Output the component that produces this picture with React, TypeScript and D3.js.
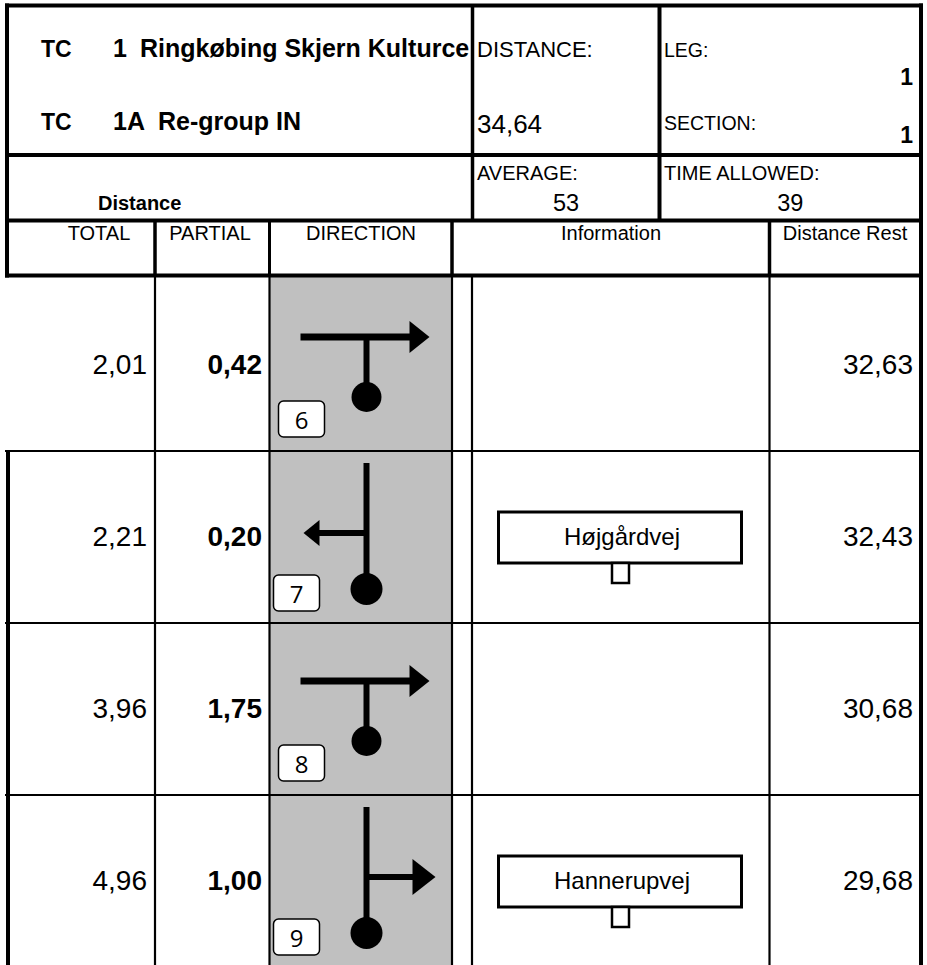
import React from 'react';
import * as d3 from 'd3';

// roadbook rows
const steps = ['6', '7', '8', '9'];
const totals = ['2,01', '2,21', '3,96', '4,96'];
const partials = ['0,42', '0,20', '1,75', '1,00'];
const rests = ['32,63', '32,43', '30,68', '29,68'];
const infos = ['', 'Højgårdvej', '', 'Hannerupvej'];
const turns = ['teeRight', 'left', 'teeRight', 'right'];

// header
const titleCodes = ['TC', 'TC'];
const titleNumbers = ['1', '1A'];
const titleNames = ['Ringkøbing Skjern Kulturce', 'Re-group IN'];
const stageDistance = '34,64';
const legNo = '1';
const sectionNo = '1';
const average = '53';
const timeAllowed = '39';
const columnLabels = ['TOTAL', 'PARTIAL', 'DIRECTION', 'Information', 'Distance Rest'];

const W = 927;
const H = 965;
const FONT = '"Liberation Sans", Arial, sans-serif';
const BOXFONT = '"Open Sans", "Noto Sans", sans-serif';

// layout
const xL = 7, xR = 921;
const cTotal = 155, cPartial = 269.5, cDir = 452, cInfo = 472, cRest = 769.5;
const xSplit1 = 472.5, xSplit2 = 659.5;
const yTop = 5.5, yHead1 = 155, yHead2 = 220.5, yHead3 = 275.5;
const labelX = [99, 210, 361, 611, 845];

const StepBox: React.FC<{ x: number; y: number; step: string }> = ({ x, y, step }) => (
  <g>
    <rect x={x} y={y} width={46} height={36} rx={5} fill="#fff" stroke="#000" strokeWidth={1.5} />
    <text x={x + 23} y={y + 28} textAnchor="middle" fontFamily={BOXFONT} fontSize={24} fill="#000">{step}</text>
  </g>
);

const Tee: React.FC<{ x0: number; y0: number; step: string }> = ({ x0, y0, step }) => {
  const yb = y0 + 58, yc = y0 + 118, xs = x0 + 97, tip = x0 + 160;
  return (
    <g>
      <line x1={x0 + 31} x2={tip - 18} y1={yb} y2={yb} stroke="#000" strokeWidth={7} />
      <path d={`M${tip - 20},${yb - 16}L${tip},${yb}L${tip - 20},${yb + 16}Z`} fill="#000" />
      <line x1={xs} x2={xs} y1={yb} y2={yc} stroke="#000" strokeWidth={6} />
      <circle cx={xs} cy={yc} r={15} fill="#000" />
      <StepBox x={x0 + 9} y={y0 + 122} step={step} />
    </g>
  );
};

const Straight: React.FC<{ x0: number; y0: number; step: string; dir: string }> = ({ x0, y0, step, dir }) => {
  const xs = x0 + 97, yb = y0 + 82, yc = y0 + 138;
  const left = dir === 'left';
  const tip = left ? x0 + 34 : x0 + 166;
  const len = left ? 16 : 23;
  const half = left ? 13 : 18;
  const base = left ? tip + len : tip - len;
  return (
    <g>
      <line x1={xs} x2={xs} y1={y0 + 12} y2={yc} stroke="#000" strokeWidth={6} />
      <circle cx={xs} cy={yc} r={16} fill="#000" />
      <line x1={xs} x2={left ? base - 2 : base + 2} y1={yb} y2={yb} stroke="#000" strokeWidth={6} />
      <path d={`M${base},${yb - half}L${tip},${yb}L${base},${yb + half}Z`} fill="#000" />
      <StepBox x={x0 + 4} y={y0 + 124} step={step} />
    </g>
  );
};

const App: React.FC = () => {
  const rowY = d3.scaleBand<string>().domain(steps).range([279, 967]).paddingInner(0);
  const thick = 4;
  const thin = 2.2;

  return (
    <svg width={W} height={H} style={{ position: 'absolute', left: 0, top: 0, background: '#fff' }} fontFamily={FONT}>
      <defs>
        <clipPath id="titleClip">
          <rect x={xL} y={yTop} width={xSplit1 - xL - 2} height={yHead1 - yTop} />
        </clipPath>
      </defs>
      <rect x={0} y={0} width={W} height={H} fill="#fff" />
      {/* shaded direction column */}
      <rect x={cPartial} y={yHead3} width={cDir - cPartial} height={H - yHead3} fill="#c0c0c0" />

      {/* header texts */}
      <g clipPath="url(#titleClip)" fontWeight="bold" fontSize={25} fill="#000">
        {titleCodes.map((c, i) => (
          <g key={i}>
            <text x={41} y={57 + i * 73} fontSize={23}>{c}</text>
            <text x={113} y={57 + i * 73}>{titleNumbers[i]}</text>
            <text x={i === 0 ? 140 : 158} y={57 + i * 73}>{titleNames[i]}</text>
          </g>
        ))}
      </g>
      <text x={98} y={210} fontWeight="bold" fontSize={20}>Distance</text>
      <text x={477} y={57} fontSize={22}>DISTANCE:</text>
      <text x={477} y={133} fontSize={26}>{stageDistance}</text>
      <text x={664} y={57} fontSize={19.5}>LEG:</text>
      <text x={913} y={85} fontSize={23} fontWeight="bold" textAnchor="end">{legNo}</text>
      <text x={664} y={130} fontSize={19.5}>SECTION:</text>
      <text x={913} y={143} fontSize={23} fontWeight="bold" textAnchor="end">{sectionNo}</text>
      <text x={477} y={180} fontSize={20}>AVERAGE:</text>
      <text x={(xSplit1 + xSplit2) / 2} y={211} fontSize={23.5} textAnchor="middle">{average}</text>
      <text x={664} y={180} fontSize={20}>TIME ALLOWED:</text>
      <text x={(xSplit2 + xR) / 2} y={211} fontSize={23.5} textAnchor="middle">{timeAllowed}</text>
      {columnLabels.map((l, i) => (
        <text key={l} x={labelX[i]} y={240} fontSize={20} textAnchor="middle">{l}</text>
      ))}

      {/* rows */}
      {steps.map((s, i) => {
        const y0 = rowY(s)!;
        const infoCx = 620;
        return (
          <g key={s}>
            <text x={147} y={y0 + 95} fontSize={28} textAnchor="end">{totals[i]}</text>
            <text x={262} y={y0 + 95} fontSize={28} fontWeight="bold" textAnchor="end">{partials[i]}</text>
            <text x={913} y={y0 + 95} fontSize={28} textAnchor="end">{rests[i]}</text>
            {turns[i] === 'teeRight'
              ? <Tee x0={cPartial} y0={y0} step={s} />
              : <Straight x0={cPartial} y0={y0} step={s} dir={turns[i]} />}
            {infos[i] && (
              <g>
                <rect x={infoCx - 121.5} y={y0 + 61} width={243} height={51} fill="#fff" stroke="#000" strokeWidth={3} />
                <rect x={infoCx - 8} y={y0 + 112} width={17} height={20} fill="#fff" stroke="#000" strokeWidth={2.5} />
                <text x={infoCx + 2} y={y0 + 94} fontSize={24} textAnchor="middle">{infos[i]}</text>
              </g>
            )}
          </g>
        );
      })}

      {/* row grid (thin) */}
      <g stroke="#000" strokeWidth={thin}>
        {steps.slice(1).map(s => (
          <line key={s} x1={xL - 2} x2={xR} y1={rowY(s)!} y2={rowY(s)!} />
        ))}
        {[cTotal, cPartial, cDir, cInfo, cRest].map(x => (
          <line key={x} x1={x} x2={x} y1={yHead3} y2={H} />
        ))}
      </g>

      {/* header grid (thick) */}
      <g stroke="#000" strokeWidth={thick}>
        <line x1={xL - 2} x2={xR + 2} y1={yTop} y2={yTop} />
        <line x1={xL - 2} x2={xR + 2} y1={yHead1} y2={yHead1} />
        <line x1={xL - 2} x2={xR + 2} y1={yHead2} y2={yHead2} />
        <line x1={xL - 2} x2={xR + 2} y1={yHead3} y2={yHead3} />
        <line x1={xL} x2={xL} y1={yTop - 2} y2={yHead3 + 2} />
        <line x1={xL + 1} x2={xL + 1} y1={rowY(steps[1])! - 1} y2={H} />
        <line x1={xR} x2={xR} y1={yTop - 2} y2={H} />
        <line x1={xSplit1} x2={xSplit1} y1={yTop} y2={yHead2} strokeWidth={3.5} />
        <line x1={xSplit2} x2={xSplit2} y1={yTop} y2={yHead2} />
        {[cTotal, cPartial, cDir, cRest].map(x => (
          <line key={x} x1={x} x2={x} y1={yHead2} y2={yHead3} strokeWidth={x === cPartial ? 3 : 3.5} />
        ))}
      </g>
    </svg>
  );
};

export default App;
